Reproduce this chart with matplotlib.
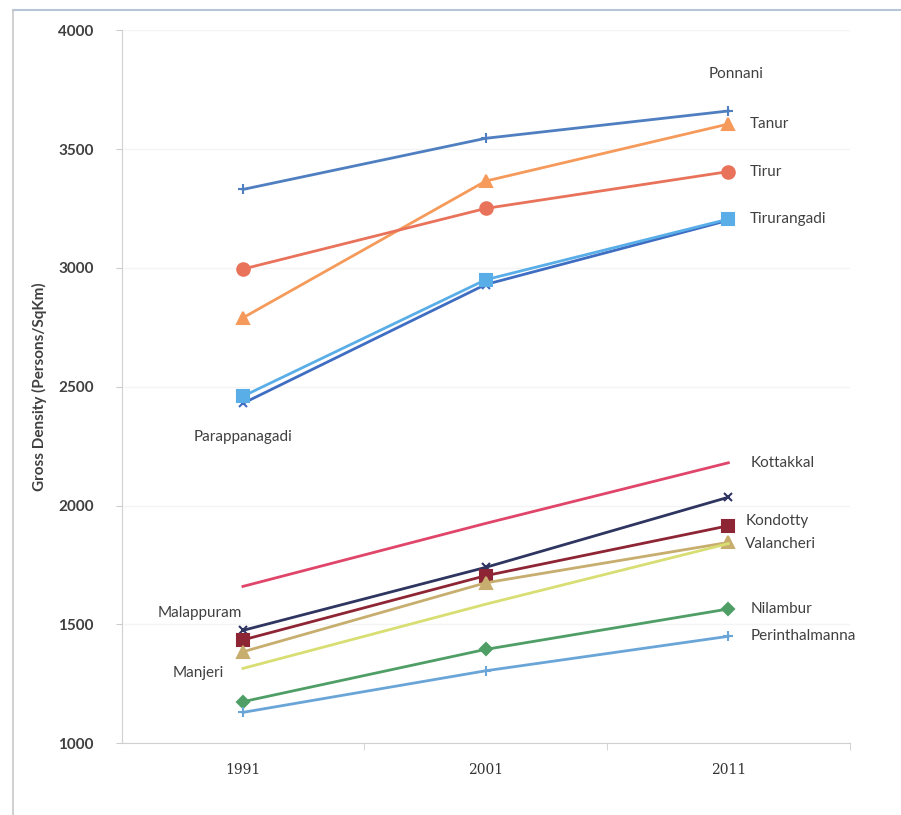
import matplotlib

matplotlib.use("Agg")
import matplotlib.pyplot as plt  # noqa: E402
from matplotlib.lines import Line2D  # noqa: E402

years = ["1991", "2001", "2011"]

ponnani = [3330, 3545, 3660]
tanur = [2790, 3365, 3605]
tirur = [2995, 3250, 3405]
tirurangadi = [2460, 2950, 3205]
parappanagadi = [2430, 2930, 3200]
kottakkal = [1660, 1925, 2180]
malappuram = [1475, 1740, 2035]
kondotty = [1435, 1705, 1915]
valancheri = [1385, 1675, 1845]
manjeri = [1315, 1585, 1840]
nilambur = [1175, 1395, 1565]
perinthalmanna = [1130, 1305, 1450]

# (nombre, valores, color, marcador, tamano)
series = [
    ("Ponnani", ponnani, "#4F7FC0", "+", 7),
    ("Tanur", tanur, "#F59A5A", "^", 8),
    ("Tirur", tirur, "#E8735A", "o", 9),
    ("Parappanagadi", parappanagadi, "#3E6DC2", "x", 6),
    ("Tirurangadi", tirurangadi, "#5AAEE8", "s", 9),
    ("Kottakkal", kottakkal, "#E0456A", "", 0),
    ("Malappuram", malappuram, "#2E3560", "x", 6),
    ("Kondotty", kondotty, "#8E2535", "s", 9),
    ("Valancheri", valancheri, "#C8AE6E", "^", 8),
    ("Manjeri", manjeri, "#D8DE72", "", 0),
    ("Nilambur", nilambur, "#4E9E66", "D", 6),
    ("Perinthalmanna", perinthalmanna, "#6AA5D8", "+", 7),
]

# (texto, x, y, alineacion)
labels = [
    ("Ponnani", 2.03, 3815, "center"),
    ("Tanur", 2.09, 3605, "left"),
    ("Tirur", 2.09, 3405, "left"),
    ("Tirurangadi", 2.09, 3205, "left"),
    ("Parappanagadi", 0.0, 2290, "center"),
    ("Kottakkal", 2.09, 2180, "left"),
    ("Kondotty", 2.07, 1935, "left"),
    ("Valancheri", 2.07, 1840, "left"),
    ("Nilambur", 2.09, 1565, "left"),
    ("Perinthalmanna", 2.09, 1450, "left"),
    ("Malappuram", -0.005, 1548, "right"),
    ("Manjeri", -0.08, 1295, "right"),
]

fig = plt.figure(figsize=(9.01, 8.15), dpi=100)
ax = fig.add_axes([0.135, 0.088, 0.808, 0.875])

x = range(len(years))
for name, vals, color, mk, ms in series:
    ax.plot(x, vals, color=color, lw=2.0, marker=mk or None, ms=ms,
            mew=1.5, zorder=3)

for txt, lx, ly, ha in labels:
    ax.text(lx, ly, txt, ha=ha, va="center", fontsize=11,
            family="Lato", color="#404040")

ax.set_xlim(-0.5, 2.5)
ax.set_ylim(1000, 4000)
ax.set_yticks(range(1000, 4001, 500))
ax.set_xticks(list(x))
ax.set_xticklabels(years, family="DejaVu Serif", fontsize=10,
                   color="#333333")
ax.set_xticks([0.5, 1.5, 2.5], minor=True)
for t in ax.get_yticklabels():
    t.set_family("Lato")
    t.set_fontweight("bold")
    t.set_fontsize(11)
    t.set_color("#404040")
ax.tick_params(axis="x", which="major", length=0, pad=14)
ax.tick_params(axis="x", which="minor", length=5, color="#cccccc")
ax.tick_params(axis="y", length=4, color="#cccccc", pad=16)
ax.grid(axis="y", color="#f4f4f4", lw=1)
ax.set_axisbelow(True)
for s in ("top", "right"):
    ax.spines[s].set_visible(False)
for s in ("left", "bottom"):
    ax.spines[s].set_color("#d0d0d0")
ax.set_ylabel("Gross Density (Persons/SqKm)", family="Lato",
              fontweight="bold", fontsize=11, color="#404040", labelpad=8)

# marco de la imagen
fig.add_artist(Line2D([13 / 901, 1], [1 - 10 / 815, 1 - 10 / 815],
                      transform=fig.transFigure, color="#b8c4d8", lw=1.5))
fig.add_artist(Line2D([13 / 901, 13 / 901], [0, 1 - 10 / 815],
                      transform=fig.transFigure, color="#c8c8c8", lw=1.2))

fig.savefig("out.png", dpi=100)
